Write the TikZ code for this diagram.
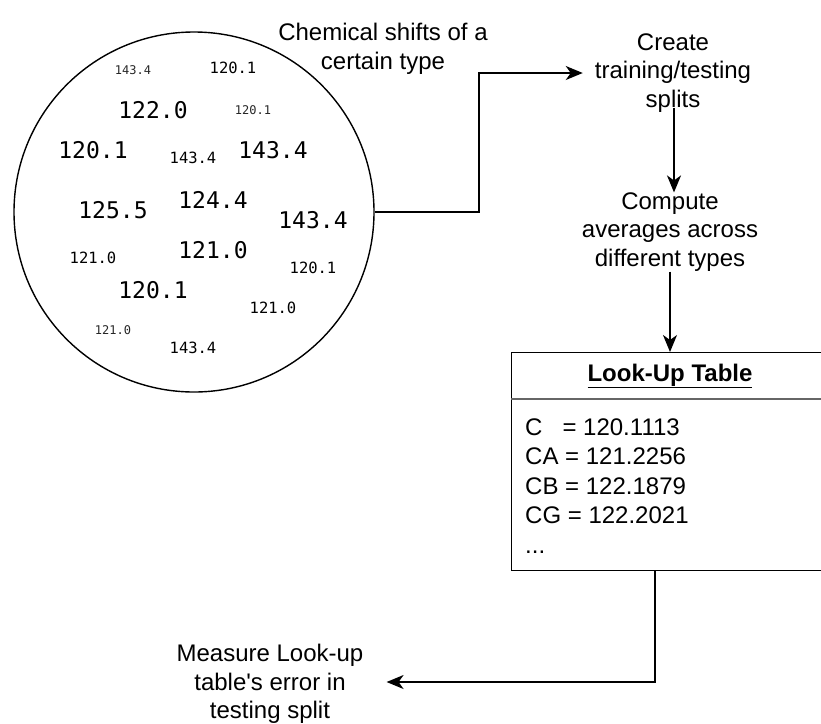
\documentclass[tikz,border=0pt]{standalone}
\usepackage{fontspec}
\setmainfont{Liberation Sans}
\newfontfamily\numfont{DejaVu Sans Mono}
\usetikzlibrary{arrows.meta}
\begin{document}
\begin{tikzpicture}[x=1pt,y=-1pt,
  lbl/.style={font=\fontsize{24}{28.5}\selectfont, align=center, inner sep=0pt},
  big/.style={font=\numfont\fontsize{23}{23}\selectfont, inner sep=0pt},
  mid/.style={font=\numfont\fontsize{15.5}{15.5}\selectfont, inner sep=0pt},
  sml/.style={font=\numfont\fontsize{12}{12}\selectfont, inner sep=0pt, text=black!85},
  link/.style={line width=1.6pt, -{Stealth[length=17pt,width=14pt,inset=5pt]}},
  entry/.style={font=\fontsize{24}{28.5}\selectfont, inner sep=0pt, anchor=base west}]
\useasboundingbox (0,0) rectangle (821,723);

% pool of chemical shift values
\node[circle, draw, line width=1.4pt, minimum size=360pt, inner sep=0pt] (pool) at (194,212) {};
\node[sml] (v1)  at (133,70)  {143.4};
\node[mid] (v2)  at (233,68)  {120.1};
\node[big] (v3)  at (153,110) {122.0};
\node[sml] (v4)  at (253,110) {120.1};
\node[big] (v5)  at (93,150)  {120.1};
\node[mid] (v6)  at (193,158) {143.4};
\node[big] (v7)  at (273,150) {143.4};
\node[big] (v8)  at (113,210) {125.5};
\node[big] (v9)  at (213,200) {124.4};
\node[big] (v10) at (313,220) {143.4};
\node[mid] (v11) at (93,258)  {121.0};
\node[big] (v12) at (213,250) {121.0};
\node[mid] (v13) at (313,268) {120.1};
\node[big] (v14) at (153,290) {120.1};
\node[mid] (v15) at (273,308) {121.0};
\node[sml] (v16) at (113,330) {121.0};
\node[mid] (v17) at (193,348) {143.4};

\node[lbl] (pooltitle) at (383,49) {Chemical shifts of a\\certain type};

% processing steps
\node[lbl, inner xsep=12pt, inner ysep=-5pt] (split) at (673,73) {Create\\training/testing\\splits};
\node[lbl] (compute) at (670,232) {Compute\\averages across\\different types};
\node[lbl, inner xsep=23pt] (measure) at (270,684) {Measure Look-up\\table\textquotesingle s error in\\testing split};

% look-up table
\node[draw, line width=1.4pt, minimum width=318pt, minimum height=218pt,
      anchor=north west, inner sep=0pt] (lut) at (511,352) {};
\draw[line width=1.2pt, black!60] (lut.west |- 0,399) -- (lut.east |- 0,399);
\node[font=\bfseries\fontsize{24}{28}\selectfont, inner sep=0pt, anchor=base] (luthead) at (670,381) {\underline{Look-Up Table}};
\node[entry] (e1) at (525,435)   {C\ \ \ = 120.1113};
\node[entry] (e2) at (525,464.5) {CA = 121.2256};
\node[entry] (e3) at (525,494)   {CB = 122.1879};
\node[entry] (e4) at (525,523.5) {CG = 122.2021};
\node[entry] (e5) at (525,553)   {...};

% connectors
\draw[link] (pool.east) -- ++(104,0) |- (split.west);
\draw[link] ([xshift=1pt]split.south) -- ([xshift=1pt]split.south |- compute.north);
\draw[link] (compute.south) -- (compute.south |- lut.north);
\draw[link] ([xshift=-16pt]lut.south) |- ([yshift=2pt]measure.east);
\end{tikzpicture}
\end{document}
